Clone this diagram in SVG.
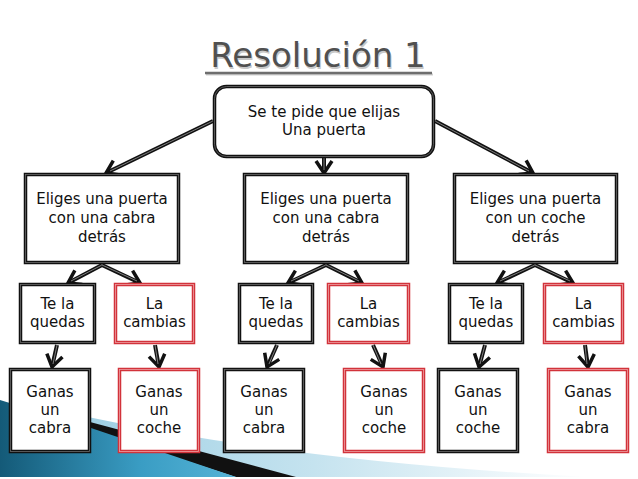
<svg xmlns="http://www.w3.org/2000/svg" width="638" height="479" viewBox="0 0 638 479">
<defs>
<style>
text{font-family:"DejaVu Sans","Liberation Sans",sans-serif;font-size:15px;fill:#111;text-anchor:middle}
.title{font-size:34px;fill:#505050}
.tshadow{font-size:34px;fill:#c8c8c8}
.bo{fill:#fff;stroke:#111;stroke-width:3.5}
.bi{fill:none;stroke:#6a6a6a;stroke-width:0.8}
.ro{fill:#fff;stroke:#d2333b;stroke-width:3.5}
.ri{fill:none;stroke:#ee9ea2;stroke-width:0.8}
.c{fill:none;stroke:#111;stroke-width:4;marker-end:url(#arr)}
.ci{fill:none;stroke:#8a8a8a;stroke-width:0.9}
</style>
<marker id="arr" markerUnits="userSpaceOnUse" viewBox="-15 -10 18 20" markerWidth="18" markerHeight="20" refX="0" refY="0" orient="auto" overflow="visible">
<path d="M-12,-8 L0,0 L-12,8" fill="none" stroke="#111" stroke-width="3.5"/>
</marker>
<linearGradient id="lb" x1="0" y1="0" x2="1" y2="0">
<stop offset="0" stop-color="#9fd0e4"/>
<stop offset="0.45" stop-color="#c5e3ef"/>
<stop offset="1" stop-color="#ffffff"/>
</linearGradient>
<linearGradient id="teal" x1="0" y1="0" x2="1" y2="0">
<stop offset="0" stop-color="#145a78"/>
<stop offset="0.6" stop-color="#3a9dc4"/>
<stop offset="1" stop-color="#55b3d6"/>
</linearGradient>
</defs>
<rect width="638" height="479" fill="#fff"/>
<g id="swoosh">
<path d="M88,417 Q300,462 590,477 L88,477 Z" fill="url(#lb)"/>
<polygon points="90,422 296,477 236,477 90,430" fill="#111"/>
<polygon points="0,400 91,428 236,477 0,477" fill="url(#teal)"/>
</g>
<g id="title">
<text class="tshadow" x="319" y="68.5">Resolución 1</text>
<text class="title" x="318" y="67">Resolución 1</text>
<line x1="206" y1="74.5" x2="433" y2="74.5" stroke="#cfcfcf" stroke-width="2"/>
<line x1="205" y1="73" x2="432" y2="73" stroke="#6e6e6e" stroke-width="2.5"/>
</g>
<g id="connectors">
<path class="c" d="M213,121 L106,173"/><path class="ci" d="M213,121 L110,171"/>
<path class="c" d="M324,158 L324,173"/><path class="ci" d="M324,158 L324,170"/>
<path class="c" d="M435,121 L533,173"/><path class="ci" d="M435,121 L529,171"/>
<path class="c" d="M102,265 L68,283"/><path class="ci" d="M102,265 L71,281"/>
<path class="c" d="M102,265 L140,283"/><path class="ci" d="M102,265 L137,281"/>
<path class="c" d="M326,265 L288,283"/><path class="ci" d="M326,265 L291,281"/>
<path class="c" d="M326,265 L362,283"/><path class="ci" d="M326,265 L359,281"/>
<path class="c" d="M535,265 L497,283"/><path class="ci" d="M535,265 L500,281"/>
<path class="c" d="M535,265 L573,283"/><path class="ci" d="M535,265 L570,281"/>
<path class="c" d="M57,345 L52,367"/><path class="ci" d="M57,345 L53,364"/>
<path class="c" d="M155,345 L159,367"/><path class="ci" d="M155,345 L158,364"/>
<path class="c" d="M277,345 L267,367"/><path class="ci" d="M277,345 L269,364"/>
<path class="c" d="M373,345 L383,367"/><path class="ci" d="M373,345 L381,364"/>
<path class="c" d="M485,345 L479,367"/><path class="ci" d="M485,345 L480,364"/>
<path class="c" d="M585,345 L588,367"/><path class="ci" d="M585,345 L587,364"/>
</g>
<g id="n0">
<rect class="bo" x="214.5" y="86.5" width="219" height="70" rx="12"/>
<rect class="bi" x="214.5" y="86.5" width="219" height="70" rx="12"/>
<text x="324" y="117">Se te pide que elijas</text>
<text x="324" y="135">Una puerta</text>
</g>
<g id="n1">
<rect class="bo" x="25.5" y="174.5" width="153" height="88"/>
<rect class="bi" x="25.5" y="174.5" width="153" height="88"/>
<text x="102" y="204">Eliges una puerta</text>
<text x="102" y="223">con una cabra</text>
<text x="102" y="242">detrás</text>
</g>
<g id="n2">
<rect class="bo" x="244.5" y="174.5" width="163" height="88"/>
<rect class="bi" x="244.5" y="174.5" width="163" height="88"/>
<text x="326" y="204">Eliges una puerta</text>
<text x="326" y="223">con una cabra</text>
<text x="326" y="242">detrás</text>
</g>
<g id="n3">
<rect class="bo" x="454.5" y="174.5" width="162" height="88"/>
<rect class="bi" x="454.5" y="174.5" width="162" height="88"/>
<text x="535.5" y="204">Eliges una puerta</text>
<text x="535.5" y="223">con un coche</text>
<text x="535.5" y="242">detrás</text>
</g>
<g id="n4">
<rect class="bo" x="20.5" y="284.5" width="74" height="58"/>
<rect class="bi" x="20.5" y="284.5" width="74" height="58"/>
<text x="57.5" y="309">Te la</text>
<text x="57.5" y="327">quedas</text>
</g>
<g id="n5">
<rect class="ro" x="115.5" y="284.5" width="78" height="58"/>
<rect class="ri" x="115.5" y="284.5" width="78" height="58"/>
<text x="154.5" y="309">La</text>
<text x="154.5" y="327">cambias</text>
</g>
<g id="n6">
<rect class="bo" x="239.5" y="284.5" width="73" height="58"/>
<rect class="bi" x="239.5" y="284.5" width="73" height="58"/>
<text x="276" y="309">Te la</text>
<text x="276" y="327">quedas</text>
</g>
<g id="n7">
<rect class="ro" x="328.5" y="284.5" width="80" height="58"/>
<rect class="ri" x="328.5" y="284.5" width="80" height="58"/>
<text x="368.5" y="309">La</text>
<text x="368.5" y="327">cambias</text>
</g>
<g id="n8">
<rect class="bo" x="449.5" y="284.5" width="73" height="58"/>
<rect class="bi" x="449.5" y="284.5" width="73" height="58"/>
<text x="486" y="309">Te la</text>
<text x="486" y="327">quedas</text>
</g>
<g id="n9">
<rect class="ro" x="544.5" y="284.5" width="78" height="58"/>
<rect class="ri" x="544.5" y="284.5" width="78" height="58"/>
<text x="583.5" y="309">La</text>
<text x="583.5" y="327">cambias</text>
</g>
<g id="n10">
<rect class="bo" x="10.5" y="369.5" width="79" height="82"/>
<rect class="bi" x="10.5" y="369.5" width="79" height="82"/>
<text x="50" y="397">Ganas</text>
<text x="50" y="415">un</text>
<text x="50" y="433">cabra</text>
</g>
<g id="n11">
<rect class="ro" x="119.5" y="369.5" width="79" height="82"/>
<rect class="ri" x="119.5" y="369.5" width="79" height="82"/>
<text x="159" y="397">Ganas</text>
<text x="159" y="415">un</text>
<text x="159" y="433">coche</text>
</g>
<g id="n12">
<rect class="bo" x="224.5" y="369.5" width="79" height="82"/>
<rect class="bi" x="224.5" y="369.5" width="79" height="82"/>
<text x="264" y="397">Ganas</text>
<text x="264" y="415">un</text>
<text x="264" y="433">cabra</text>
</g>
<g id="n13">
<rect class="ro" x="344.5" y="369.5" width="79" height="82"/>
<rect class="ri" x="344.5" y="369.5" width="79" height="82"/>
<text x="384" y="397">Ganas</text>
<text x="384" y="415">un</text>
<text x="384" y="433">coche</text>
</g>
<g id="n14">
<rect class="bo" x="438.5" y="369.5" width="79" height="82"/>
<rect class="bi" x="438.5" y="369.5" width="79" height="82"/>
<text x="478" y="397">Ganas</text>
<text x="478" y="415">un</text>
<text x="478" y="433">coche</text>
</g>
<g id="n15">
<rect class="ro" x="548.5" y="369.5" width="79" height="82"/>
<rect class="ri" x="548.5" y="369.5" width="79" height="82"/>
<text x="588" y="397">Ganas</text>
<text x="588" y="415">un</text>
<text x="588" y="433">cabra</text>
</g>
</svg>
